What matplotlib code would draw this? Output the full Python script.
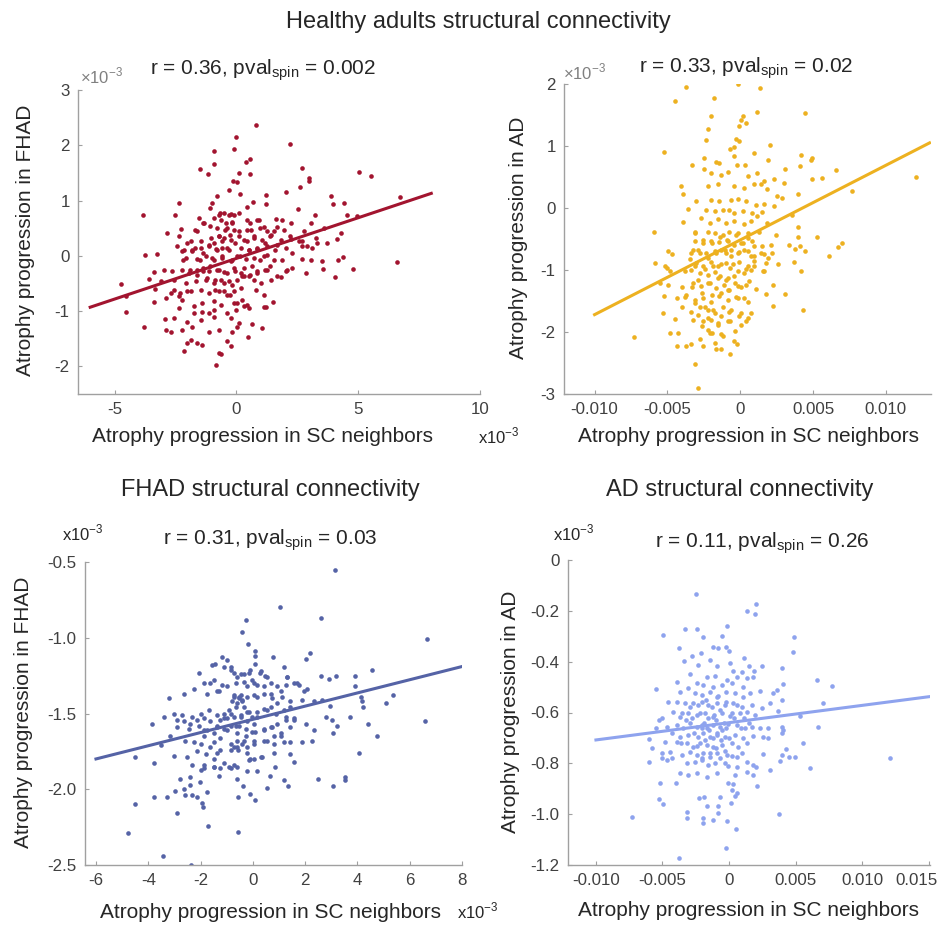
import numpy as np
import matplotlib
matplotlib.use("Agg")
import matplotlib.pyplot as plt
from matplotlib.transforms import ScaledTranslation

plt.rcParams["font.family"] = ["Liberation Sans", "DejaVu Sans"]
plt.rcParams["mathtext.fontset"] = "custom"
plt.rcParams["mathtext.rm"] = "Liberation Sans"
plt.rcParams["axes.unicode_minus"] = False

W, H = 944, 926

# --- data (x: atrophy in SC neighbours, y: regional atrophy) ---
# healthy-adults connectome, FHAD atrophy (both in x1e-3)
hc_fhad_pts = [
    (0.82, 2.37), (0.0, 2.15), (2.21, 2.03), (-0.08, 1.93), (-0.90, 1.89), (0.56, 1.75), (0.41, 1.69),
    (-0.93, 1.66), (-1.49, 1.57), (-1.16, 1.48), (0.11, 1.49), (0.55, 1.48), (2.71, 1.58), (2.99, 1.41),
    (2.97, 1.36), (5.04, 1.51), (5.51, 1.45), (-0.14, 1.36), (0.03, 1.33), (-0.29, 1.19), (2.04, 1.15),
    (2.60, 1.25), (-0.78, 1.08), (0.14, 1.11), (1.23, 1.10), (3.88, 1.09), (6.70, 1.07), (-1.01, 0.95),
    (-2.36, 0.95), (0.70, 0.97), (1.22, 0.94), (3.95, 0.94), (4.42, 0.95), (0.42, 0.89), (-1.08, 0.86),
    (-3.85, 0.73), (-2.53, 0.73), (3.21, 0.74), (4.56, 0.73), (2.53, 0.84),
    (-0.71, 0.74), (-0.51, 0.77), (-0.23, 0.76), (-0.10, 0.74), (-1.53, 0.68), (-1.33, 0.60), (-0.64, 0.65),
    (-0.41, 0.59), (-0.19, 0.62), (0.45, 0.65), (0.93, 0.64), (1.63, 0.67), (1.89, 0.64), (2.23, 0.59),
    (3.08, 0.59), (4.97, 0.72),
    (-2.29, 0.48), (-1.71, 0.47), (-1.08, 0.54), (-0.78, 0.50), (-0.37, 0.50), (-0.10, 0.47), (0.59, 0.47),
    (1.14, 0.53), (1.27, 0.44), (1.55, 0.44), (2.78, 0.44), (3.60, 0.50), (4.29, 0.41),
    (-2.84, 0.41), (-2.36, 0.35), (-1.88, 0.26), (-1.47, 0.26), (-1.05, 0.32), (-0.71, 0.35), (-0.51, 0.32),
    (-0.23, 0.28), (0.11, 0.35), (0.45, 0.26), (0.73, 0.32), (1.07, 0.29), (1.41, 0.38), (1.82, 0.28),
    (2.23, 0.30), (2.71, 0.26), (3.26, 0.32), (3.74, 0.23), (4.15, 0.30),
    (-2.42, 0.17), (-2.15, 0.11), (-1.81, 0.11), (-1.47, 0.14), (-1.12, 0.17), (-0.85, 0.12), (-0.58, 0.14),
    (-0.30, 0.11), (0.18, 0.14), (0.52, 0.11), (0.86, 0.12), (1.27, 0.17), (1.68, 0.20), (2.03, 0.14),
    (2.71, 0.17), (3.12, 0.14),
    (-3.77, 0.02), (-3.27, 0.04), (-2.08, -0.04), (-1.60, -0.06), (-1.26, -0.01), (-0.92, -0.07),
    (-0.58, -0.04), (-0.23, -0.10), (0.04, -0.01), (0.38, -0.06), (0.73, -0.04), (1.14, -0.01),
    (1.55, -0.07), (2.30, 0.05), (2.71, -0.06), (3.05, -0.07), (3.53, -0.10), (4.19, -0.07), (4.38, -0.02),
    (6.58, -0.12),
    (-3.38, -0.30), (-2.97, -0.25), (-2.63, -0.28), (-2.22, -0.25), (-1.95, -0.31), (-1.60, -0.25),
    (-1.36, -0.22), (-1.12, -0.28), (-0.78, -0.25), (-0.51, -0.30), (-0.10, -0.22), (0.18, -0.31),
    (0.52, -0.37), (0.86, -0.28), (1.27, -0.25), (2.03, -0.28), (2.30, -0.22), (2.85, -0.31), (3.56, -0.24),
    (4.77, -0.23), (4.03, -0.39),
    (-3.59, -0.42), (-3.11, -0.46), (-2.56, -0.43), (-2.08, -0.49), (-1.67, -0.46), (-1.26, -0.43),
    (-0.92, -0.49), (-0.64, -0.43), (-0.30, -0.46), (0.04, -0.43), (0.32, -0.37), (0.73, -0.43),
    (1.00, -0.49), (1.41, -0.43), (1.82, -0.39),
    (-4.75, -0.51), (-3.32, -0.60), (-2.70, -0.67), (-2.36, -0.72), (-1.88, -0.64), (-1.47, -0.61),
    (-1.12, -0.67), (-0.71, -0.64), (-0.37, -0.70), (-0.10, -0.64), (0.18, -0.58), (0.79, -0.61), (1.14, -0.70),
    (-4.55, -0.73), (-3.38, -0.83), (-2.90, -0.77), (-2.22, -0.80), (-1.74, -0.90), (-1.40, -0.86),
    (-0.92, -0.81), (-0.64, -0.89), (-0.10, -0.86), (0.25, -0.80), (0.45, -0.89), (1.52, -0.83),
    (-2.36, -0.95), (-1.74, -1.04), (-1.40, -1.01), (-1.12, -1.04), (-0.92, -0.98), (-0.37, -1.04),
    (-0.03, -0.98), (0.52, -0.95), (1.14, -0.92), (1.23, -0.93), (-4.53, -1.02),
    (-2.56, -1.13), (-2.01, -1.19), (-1.47, -1.16), (-0.92, -1.10), (-0.23, -1.13), (0.11, -1.22),
    (0.66, -1.23), (-3.79, -1.29), (-2.93, -1.14),
    (-2.90, -1.34), (-2.70, -1.37), (-2.22, -1.34), (-1.81, -1.28), (-1.12, -1.37), (-0.71, -1.34),
    (-0.16, -1.37), (0.04, -1.28), (1.07, -1.31),
    (-1.88, -1.52), (-1.60, -1.58), (-1.40, -1.61), (-0.37, -1.55), (-0.23, -1.63), (0.48, -1.46), (-2.01, -1.58),
    (-2.14, -1.72), (-0.71, -1.76), (-0.62, -1.77), (-0.84, -1.98),
    # dense core
    (-0.66, 0.77), (-0.32, 0.74), (0.10, 0.77), (-0.18, 0.59), (-0.45, 0.47), (-0.73, 0.35), (-0.93, 0.23),
    (-0.59, 0.26), (-0.25, 0.38), (0.10, 0.44), (0.44, 0.47), (0.58, 0.59), (0.85, 0.65), (0.99, 0.50),
    (0.71, 0.35), (0.30, 0.29), (-0.04, 0.23), (-0.38, 0.14), (-0.80, 0.11), (-1.14, 0.20), (-1.35, 0.05),
    (-1.00, -0.04), (-0.59, -0.01), (-0.18, -0.07), (0.16, -0.01), (0.51, 0.11), (0.85, 0.14), (1.19, 0.23),
    (1.40, 0.35), (1.60, 0.11), (1.26, 0.02), (0.99, -0.07), (0.65, -0.19), (0.30, -0.22), (-0.04, -0.28),
    (-0.38, -0.31), (-0.73, -0.25), (-1.07, -0.19), (-1.35, -0.28), (-1.62, -0.34), (-1.89, -0.25),
    (-2.17, -0.07), (-1.82, 0.08), (-1.48, -0.07), (-1.21, -0.40), (-0.86, -0.43), (-0.52, -0.49),
    (-0.18, -0.52), (0.23, -0.37), (0.58, -0.34), (0.85, -0.31), (1.19, -0.25), (-0.86, -0.61),
    (-0.52, -0.64), (-0.25, -0.70), (0.03, -0.85), (0.30, -0.91), (-2.03, -0.64), (-2.30, -0.67),
    (-2.58, -0.61), (-1.69, 0.14), (-2.03, 0.23), (-2.23, 0.08), (-1.62, 0.44), (-1.35, 0.59), (-0.93, 0.68),
    (1.67, 0.53), (1.95, 0.47), (2.22, 0.35), (2.56, 0.26), (2.91, 0.17), (3.32, 0.23), (1.88, -0.07),
    (2.09, -0.25), (1.67, -0.37), (1.40, -0.19),
]
hc_fhad_fit = [(-6.0, -0.93), (8.0, 1.13)]

# healthy-adults connectome, AD atrophy (x in x1e-3, scaled to raw units when drawn; y in x1e-3)
hc_ad_pts = [
    (-3.73, 1.95), (-0.18, 2.00), (1.33, 1.94), (-4.48, 1.72), (-1.83, 1.77), (1.18, 1.55), (4.48, 1.54),
    (-1.99, 1.49), (0.20, 1.48), (0.05, 1.42), (0.38, 1.37), (-0.05, 1.32), (-2.19, 1.27), (-0.29, 1.11),
    (-0.07, 1.08), (-2.33, 1.09), (2.04, 1.02), (-0.41, 0.99), (-0.70, 0.95), (-5.20, 0.90), (0.95, 0.88),
    (4.19, 0.86), (4.91, 0.81), (4.86, 0.78), (-2.49, 0.81), (-1.65, 0.74), (-1.43, 0.73), (-0.45, 0.84),
    (-0.23, 0.70), (0.32, 0.70), (1.90, 0.77), (-3.28, 0.70), (3.10, 0.63), (4.12, 0.67), (6.61, 0.62),
    (12.08, 0.50), (7.69, 0.27), (5.59, 0.48), (4.91, 0.47),
    (-2.49, 0.63), (-1.99, 0.56), (-1.31, 0.54), (-0.86, 0.58), (0.50, 0.51), (1.18, 0.56), (1.63, 0.43),
    (2.31, 0.46), (2.99, 0.40), (3.98, 0.23), (-4.07, 0.35), (-3.91, 0.23), (-2.22, 0.35), (-1.54, 0.38),
    (-0.41, 0.35), (0.27, 0.32), (0.95, 0.38), (1.40, 0.39), (1.86, 0.30), (2.53, 0.19), (2.87, 0.16),
    (-3.01, 0.11), (-1.99, 0.13), (-1.43, 0.11), (-0.63, 0.13), (-0.18, 0.14), (0.38, 0.11), (1.06, 0.05),
    (1.63, 0.07), (2.31, 0.03), (3.55, -0.11), (-3.57, -0.02), (-2.33, -0.03), (-1.76, -0.05), (-1.20, -0.04),
    (-0.75, -0.03), (-0.41, -0.08), (0.16, -0.05), (0.84, -0.08), (1.52, -0.07),
    (-3.91, -0.23), (-2.67, -0.16), (-2.10, -0.24), (-1.54, -0.18), (-0.97, -0.24), (-0.41, -0.21),
    (0.27, -0.26), (0.72, -0.21), (1.18, -0.13), (1.86, -0.24), (3.98, -0.30), (-3.12, -0.39), (-2.22, -0.38),
    (-1.76, -0.40), (-1.20, -0.43), (-0.75, -0.38), (-0.18, -0.40), (0.50, -0.41), (1.29, -0.38), (2.49, -0.43),
    (5.29, -0.46), (3.98, -0.46), (-5.95, -0.38),
    (-3.12, -0.54), (-2.56, -0.56), (-1.99, -0.54), (-1.43, -0.55), (-0.90, -0.51), (-0.41, -0.59),
    (0.16, -0.56), (0.84, -0.54), (1.52, -0.62), (2.08, -0.59), (3.33, -0.59), (3.78, -0.66), (4.12, -0.62),
    (6.99, -0.56), (6.72, -0.63), (6.09, -0.78), (4.46, -0.69),
    (-4.93, -0.70), (-4.71, -0.75), (-3.35, -0.72), (-2.90, -0.67), (-2.33, -0.72), (-1.76, -0.70),
    (-1.31, -0.67), (-0.97, -0.72), (-0.63, -0.67), (-0.07, -0.71), (0.50, -0.70), (0.95, -0.77),
    (1.63, -0.75), (2.19, -0.72),
    (-5.84, -0.89), (-5.16, -0.93), (-3.46, -0.82), (-3.01, -0.89), (-2.56, -0.93), (-1.99, -0.87),
    (-1.54, -0.93), (-0.97, -0.89), (-0.52, -0.91), (-0.07, -0.87), (0.50, -0.93), (0.95, -0.85),
    (1.74, -0.89), (2.58, -0.91), (3.67, -0.87),
    (-5.05, -0.97), (-4.82, -1.01), (-3.80, -1.02), (-3.35, -1.00), (-2.78, -1.05), (-2.22, -1.08),
    (-1.76, -1.04), (-1.36, -1.10), (-0.86, -1.13), (-0.41, -1.09), (0.27, -1.05), (0.72, -1.00),
    (1.63, -1.02), (4.19, -1.01),
    (-5.50, -1.21), (-4.93, -1.24), (-4.03, -1.27), (-3.24, -1.21), (-2.67, -1.26), (-2.10, -1.21),
    (-1.65, -1.29), (-1.09, -1.24), (-0.75, -1.32), (-0.18, -1.26), (0.38, -1.24), (1.06, -1.31), (2.22, -1.24),
    (-5.20, -1.42), (-4.37, -1.45), (-3.69, -1.41), (-3.12, -1.48), (-2.56, -1.45), (-1.99, -1.51),
    (-1.43, -1.42), (-0.86, -1.48), (-0.18, -1.45), (0.50, -1.51), (1.74, -1.38), (3.10, -1.39),
    (-5.27, -1.69), (-4.03, -1.60), (-3.35, -1.67), (-2.78, -1.59), (-2.22, -1.64), (-1.76, -1.69),
    (-1.31, -1.75), (-0.75, -1.67), (-0.07, -1.75), (0.72, -1.69), (2.26, -1.58), (4.30, -1.64),
    (-4.48, -1.79), (-3.24, -1.80), (-2.56, -1.83), (-1.99, -1.80), (-1.54, -1.88), (-0.70, -1.83),
    (0.05, -1.88), (0.38, -1.83),
    (-4.82, -2.02), (-4.25, -2.02), (-2.22, -1.96), (-2.10, -2.01), (-7.26, -2.08), (-2.78, -2.12),
    (-1.76, -2.17), (-1.20, -2.07), (-0.41, -2.15), (-0.23, -2.20),
    (-4.37, -2.22), (-3.69, -2.23), (-3.35, -2.20), (-2.56, -2.22), (-1.65, -2.28), (-1.31, -2.28),
    (-0.70, -2.35), (-3.12, -2.52), (-2.90, -2.90),
    # dense core
    (-3.11, -0.40), (-2.54, -0.51), (-1.97, -0.57), (-1.41, -0.46), (-0.84, -0.54), (-0.27, -0.43),
    (0.07, -0.57), (0.52, -0.48), (0.97, -0.62), (-3.22, -0.67), (-2.77, -0.73), (-2.20, -0.81),
    (-1.63, -0.73), (-1.07, -0.67), (-0.61, -0.78), (-0.16, -0.73), (0.29, -0.67), (0.75, -0.78),
    (1.43, -0.73), (1.88, -0.81), (-3.11, -0.94), (-2.43, -0.99), (-1.86, -0.94), (-1.29, -0.91),
    (-0.73, -0.97), (-0.16, -1.02), (0.41, -0.99), (0.97, -0.94), (1.54, -1.02), (-2.88, -1.16),
    (-2.20, -1.21), (-1.52, -1.13), (-0.95, -1.16), (-0.39, -1.21), (0.07, -1.27), (0.63, -1.18),
    (-3.33, -1.27), (-2.65, -1.37), (-1.97, -1.40), (-1.29, -1.37), (-0.84, -1.32), (-0.27, -1.43),
    (0.29, -1.45), (-3.79, -1.43), (-3.11, -1.53), (-2.43, -1.59), (-1.86, -1.64), (-1.18, -1.59),
    (-0.61, -1.64), (0.07, -1.69), (0.52, -1.77), (-2.88, -1.72), (-2.20, -1.77), (-1.52, -1.85),
    (-0.84, -1.83), (-2.65, -1.91), (-1.97, -2.02), (-1.29, -2.04), (-0.39, -1.99),
]
hc_ad_fit = [(-10.0, -1.72), (13.0, 1.05)]

# FHAD connectome, FHAD atrophy (both in x1e-3)
fhad_pts = [
    (3.16, -0.55), (1.03, -0.80), (2.59, -0.87), (-0.26, -0.88), (-0.41, -0.96), (6.67, -1.01), (-0.19, -1.04),
    (0.08, -1.09), (0.10, -1.12), (2.18, -1.10), (2.02, -1.14), (0.78, -1.13), (-1.17, -1.13), (-0.98, -1.15),
    (0.10, -1.17), (1.19, -1.19), (4.54, -1.21), (-1.58, -1.18), (-1.43, -1.17), (-2.07, -1.23), (-0.85, -1.19),
    (-0.73, -1.23), (-0.47, -1.24), (-0.15, -1.23), (0.29, -1.23), (0.48, -1.25), (1.31, -1.26), (1.76, -1.31),
    (2.59, -1.25), (3.19, -1.25), (3.90, -1.25), (2.91, -1.27),
    (-1.88, -1.30), (-1.49, -1.28), (-1.17, -1.31), (-0.66, -1.30), (-0.34, -1.29), (-0.03, -1.28),
    (0.17, -1.31), (0.68, -1.30), (0.93, -1.32), (1.25, -1.31), (1.57, -1.30), (2.08, -1.34), (3.89, -1.32),
    (5.37, -1.38),
    (-2.64, -1.37), (-2.26, -1.34), (-1.75, -1.37), (-1.30, -1.35), (-0.73, -1.38), (-0.54, -1.39),
    (-0.41, -1.41), (-0.22, -1.39), (0.04, -1.38), (0.42, -1.37), (0.74, -1.40), (1.12, -1.39), (1.44, -1.42),
    (1.89, -1.41), (2.33, -1.42), (2.65, -1.41), (2.97, -1.45), (4.12, -1.39), (4.16, -1.42), (5.09, -1.43),
    (4.21, -1.46), (-3.19, -1.40),
    (-3.41, -1.52), (-3.02, -1.50), (-2.70, -1.51), (-2.32, -1.52), (-2.00, -1.50), (-1.68, -1.48),
    (-1.36, -1.51), (-1.11, -1.53), (-0.85, -1.50), (-0.47, -1.52), (-0.15, -1.49), (0.17, -1.52),
    (0.55, -1.48), (0.87, -1.50), (1.25, -1.52), (1.57, -1.54), (2.02, -1.57), (2.78, -1.52), (3.04, -1.54),
    (3.23, -1.58), (3.71, -1.52), (6.57, -1.55), (4.40, -1.57), (-3.86, -1.57),
    (-2.90, -1.59), (-2.45, -1.60), (-2.07, -1.58), (-1.75, -1.61), (-1.36, -1.59), (-0.98, -1.61),
    (-0.66, -1.58), (-0.28, -1.60), (-0.03, -1.62), (0.42, -1.61), (0.74, -1.59), (1.06, -1.63),
    (1.44, -1.59), (2.33, -1.61), (3.07, -1.63), (4.76, -1.65),
    (-3.53, -1.71), (-3.15, -1.65), (-2.58, -1.68), (-2.26, -1.69), (-1.88, -1.65), (-1.49, -1.69),
    (-1.24, -1.66), (-0.85, -1.70), (-0.60, -1.72), (-0.34, -1.68), (0.04, -1.70), (0.42, -1.68),
    (0.80, -1.65), (1.19, -1.69), (1.44, -1.69), (1.89, -1.69), (2.27, -1.68),
    (-3.02, -1.78), (-2.51, -1.79), (-2.13, -1.75), (-1.81, -1.77), (-1.49, -1.80), (-1.24, -1.74),
    (-0.85, -1.74), (-0.57, -1.74), (-0.22, -1.76), (0.04, -1.80), (0.36, -1.79), (0.80, -1.76),
    (1.44, -1.77), (1.57, -1.82), (4.06, -1.76), (-4.52, -1.79), (-3.79, -1.83),
    (-2.32, -1.84), (-1.88, -1.84), (-1.49, -1.85), (-1.24, -1.86), (-0.92, -1.85), (-0.73, -1.84),
    (-0.15, -1.81), (-2.00, -1.87), (-1.30, -1.91), (-0.60, -1.93), (-0.24, -1.88), (0.17, -1.88),
    (0.65, -1.91), (0.83, -1.85), (1.19, -1.94), (1.34, -1.98), (2.49, -1.93), (3.07, -1.98), (3.52, -1.92),
    (3.54, -1.94),
    (-2.77, -1.93), (-2.39, -1.92), (-2.04, -1.95), (-2.96, -2.01), (-2.64, -2.00), (-2.41, -1.97),
    (-1.75, -2.02), (-0.37, -1.98), (0.55, -1.99), (-3.28, -2.05), (-2.58, -2.04), (-2.32, -2.04),
    (-2.13, -2.05), (-1.94, -2.09), (-1.90, -2.12), (-0.56, -2.05), (-0.09, -2.03), (0.10, -2.07),
    (-3.79, -2.05), (-4.52, -2.10), (-2.90, -2.16), (-1.71, -2.24), (-0.57, -2.28), (-4.77, -2.29),
    (-3.44, -2.44), (-2.37, -2.50),
    # dense core
    (-0.73, -1.39), (-0.54, -1.40), (-0.41, -1.42), (-0.60, -1.43), (-0.79, -1.42), (-0.47, -1.38),
    (-0.66, -1.46), (-0.34, -1.46), (-0.92, -1.48), (-1.11, -1.50), (-1.24, -1.54), (-0.98, -1.53),
    (-0.73, -1.52), (-0.47, -1.51), (-0.21, -1.49), (-0.02, -1.52), (0.17, -1.49), (0.42, -1.47),
    (0.68, -1.46), (0.93, -1.43), (1.19, -1.48), (1.44, -1.46), (0.04, -1.57), (-0.21, -1.55),
    (-0.54, -1.58), (-0.85, -1.58), (-1.11, -1.60), (-1.36, -1.58), (-1.62, -1.55), (-1.88, -1.53),
    (-2.13, -1.54), (-2.39, -1.57), (-2.64, -1.55), (-2.90, -1.54), (-1.88, -1.61), (-1.49, -1.63),
    (-0.60, -1.63), (-0.28, -1.65), (0.10, -1.62), (0.42, -1.60), (0.68, -1.59), (0.93, -1.57),
    (1.25, -1.54), (1.57, -1.53), (-0.60, -1.68), (-0.41, -1.70), (-0.21, -1.72), (-0.73, -1.72),
    (0.04, -1.68), (0.55, -1.68), (0.80, -1.70), (1.06, -1.65), (-1.62, -1.72), (-2.00, -1.70),
    (-1.36, -1.76), (-1.11, -1.83), (-1.49, -1.85), (-0.85, -1.86), (-0.60, -1.85), (-1.88, -1.86),
    (-0.09, -1.80), (0.30, -1.79), (-0.34, -1.24), (-0.60, -1.26), (-0.85, -1.21), (-1.11, -1.19),
    (-0.09, -1.21), (0.30, -1.22), (0.55, -1.26), (0.04, -1.30), (-0.21, -1.32), (0.42, -1.32),
    (0.68, -1.37), (1.06, -1.35), (1.32, -1.26), (1.70, -1.30), (1.95, -1.35), (0.17, -1.39),
    (-0.98, -1.32), (-1.36, -1.35), (-1.62, -1.30),
]
fhad_fit = [(-6.0, -1.80), (8.0, -1.19)]

# AD connectome, AD atrophy (x in x1e-3, scaled to raw units when drawn; y in x1e-3)
ad_pts = [
    (-2.50, -0.134), (1.33, -0.199), (2.03, -0.174), (1.93, -0.214), (-0.13, -0.260), (-3.30, -0.271),
    (-2.38, -0.271), (-4.93, -0.295), (-1.93, -0.302), (-0.50, -0.299), (4.88, -0.304), (-3.75, -0.345),
    (-1.18, -0.344), (-0.25, -0.341), (4.83, -0.361), (0.03, -0.358), (-2.80, -0.378), (-2.13, -0.365),
    (-0.85, -0.348), (1.15, -0.384), (-3.38, -0.397), (-2.30, -0.413), (-1.43, -0.393), (-0.88, -0.417),
    (0.08, -0.407), (1.53, -0.416), (2.45, -0.417), (3.95, -0.426), (1.90, -0.435), (0.33, -0.435),
    (0.95, -0.439),
    (-2.93, -0.449), (-1.68, -0.459), (-1.05, -0.456), (-0.18, -0.472), (0.58, -0.459), (1.33, -0.466),
    (1.83, -0.459), (6.63, -0.472), (7.70, -0.494), (4.08, -0.488), (-3.93, -0.479), (-2.43, -0.485),
    (-1.93, -0.492), (-1.18, -0.498), (-0.55, -0.492), (0.20, -0.485), (1.08, -0.498), (2.33, -0.514),
    (3.58, -0.511), (-5.50, -0.509),
    (-3.68, -0.518), (-3.05, -0.505), (-2.55, -0.525), (-2.05, -0.531), (-1.43, -0.518), (-0.80, -0.535),
    (-0.23, -0.518), (0.45, -0.525), (1.08, -0.538), (1.58, -0.525), (3.28, -0.525), (3.95, -0.551),
    (-4.55, -0.557), (-3.93, -0.557), (-3.30, -0.564), (-2.68, -0.561), (-2.05, -0.557), (-1.55, -0.570),
    (-0.93, -0.561), (-0.30, -0.570), (0.33, -0.564), (0.95, -0.577), (1.70, -0.570), (2.45, -0.584),
    (3.08, -0.561), (7.08, -0.561),
    (-5.05, -0.623), (-4.18, -0.597), (-3.68, -0.616), (-3.05, -0.603), (-2.43, -0.610), (-1.80, -0.603),
    (-1.18, -0.616), (-0.55, -0.603), (0.08, -0.614), (0.83, -0.603), (1.33, -0.597), (1.95, -0.610),
    (3.70, -0.593), (5.33, -0.614), (-5.30, -0.630),
    (-4.68, -0.656), (-3.93, -0.649), (-3.43, -0.662), (-2.93, -0.643), (-2.43, -0.656), (-2.05, -0.649),
    (-1.68, -0.662), (-1.18, -0.649), (-0.68, -0.656), (-0.05, -0.645), (0.58, -0.649), (1.20, -0.662),
    (1.70, -0.656), (2.33, -0.662), (2.95, -0.662), (3.95, -0.656), (6.70, -0.658), (-5.50, -0.662),
    (-4.30, -0.682), (-3.68, -0.695), (-3.05, -0.689), (-2.30, -0.695), (-1.93, -0.682), (-1.43, -0.695),
    (-0.93, -0.689), (-0.30, -0.695), (0.45, -0.689), (1.08, -0.702), (1.83, -0.692), (2.58, -0.698),
    (3.95, -0.682), (4.08, -0.669), (2.90, -0.702),
    (-6.05, -0.706), (-4.80, -0.715), (-5.80, -0.741), (-3.93, -0.715), (-3.18, -0.721), (-2.68, -0.734),
    (-2.18, -0.719), (-1.68, -0.728), (-1.18, -0.737), (-0.55, -0.728), (0.20, -0.719), (0.70, -0.734),
    (1.33, -0.721), (5.58, -0.721), (4.28, -0.742),
    (-5.05, -0.761), (-4.43, -0.754), (-3.55, -0.767), (-2.93, -0.754), (-2.43, -0.767), (-1.93, -0.761),
    (-1.43, -0.774), (-0.93, -0.761), (-0.18, -0.767), (0.58, -0.774), (0.95, -0.761), (2.58, -0.765),
    (4.95, -0.776), (4.53, -0.776), (3.95, -0.767),
    (-6.05, -0.793), (-5.05, -0.780), (-4.68, -0.787), (-4.30, -0.780), (-3.18, -0.800), (-2.55, -0.793),
    (-2.05, -0.787), (-1.55, -0.807), (-1.05, -0.797), (-0.30, -0.800), (-0.05, -0.810), (0.58, -0.813),
    (1.33, -0.793), (1.83, -0.807), (6.08, -0.820), (3.83, -0.790), (12.13, -0.778),
    (-3.68, -0.839), (-3.05, -0.846), (-2.43, -0.839), (-1.68, -0.855), (-0.93, -0.839), (0.45, -0.846),
    (1.33, -0.833), (1.78, -0.846), (2.08, -0.889), (3.08, -0.826), (2.03, -0.816),
    (-5.18, -0.876), (-3.98, -0.876), (-0.10, -0.876), (0.33, -0.883), (0.20, -0.905), (-0.68, -0.931),
    (0.58, -0.918), (0.45, -0.929), (-2.25, -0.938), (-1.88, -0.931), (-5.25, -0.942), (-4.93, -0.961),
    (0.13, -0.955), (-1.68, -0.968), (-0.85, -0.968), (-0.80, -0.994), (3.78, -1.001), (-3.18, -0.990),
    (-3.13, -1.016), (-1.98, -1.014), (-1.98, -1.036), (-1.18, -1.023), (-0.18, -1.027), (-7.30, -1.010),
    (0.53, -1.060), (-0.25, -1.132), (-3.75, -1.171),
    # dense core
    (-2.2, -0.60), (-1.6, -0.62), (-1.0, -0.63), (-0.4, -0.64), (-2.8, -0.62), (-1.3, -0.58), (-0.7, -0.59),
    (-2.0, -0.66), (-1.5, -0.67), (-0.9, -0.68), (-0.2, -0.66), (0.4, -0.62), (-2.6, -0.68), (-3.2, -0.63),
    (-1.2, -0.70), (-0.6, -0.71), (0.0, -0.70), (-1.8, -0.71), (-2.4, -0.73), (-1.0, -0.74), (-0.3, -0.75),
    (0.9, -0.66), (1.5, -0.64), (-3.5, -0.60), (-1.7, -0.55), (-0.9, -0.54), (-0.2, -0.56), (0.6, -0.57),
    (-2.3, -0.57), (-2.9, -0.58), (-1.4, -0.76), (-2.0, -0.78), (-0.7, -0.78), (0.2, -0.77), (-3.6, -0.72),
    (1.1, -0.62), (0.2, -0.60), (-1.1, -0.61), (-1.9, -0.64), (-0.5, -0.67),
]
ad_fit = [(-10.0, -0.708), (15.0, -0.538)]

stats = ["r = 0.36, pval$_{\\mathrm{spin}}$ = 0.002",
         "r = 0.33, pval$_{\\mathrm{spin}}$ = 0.02",
         "r = 0.31, pval$_{\\mathrm{spin}}$ = 0.03",
         "r = 0.11, pval$_{\\mathrm{spin}}$ = 0.26"]
ylabels = ["Atrophy progression in FHAD", "Atrophy progression in AD",
           "Atrophy progression in FHAD", "Atrophy progression in AD"]
xlabel = "Atrophy progression in SC neighbors"
colors = ["#a2142f", "#edb120", "#5563a6", "#8ea3ee"]

TXT = "#262626"
TICK = "#404040"
SPINE = "#a0a0a0"


def px(x, y):
    return x / W, 1 - y / H


def rect(l, t, r, b):
    return [l / W, 1 - b / H, (r - l) / W, (b - t) / H]


fig = plt.figure(figsize=(W / 100, H / 100), dpi=100)


def panel(box, pts, fit, color, xscale, xlim, ylim, xt, xtl, yt, ytl):
    ax = fig.add_axes(box)
    p = np.array(pts)
    f = np.array(fit)
    ax.scatter(p[:, 0] * xscale, p[:, 1], s=11, color=color, linewidths=0, zorder=2)
    ax.plot(f[:, 0] * xscale, f[:, 1], color=color, lw=2.2, zorder=3)
    ax.set_xlim(*xlim)
    ax.set_ylim(*ylim)
    ax.set_xticks(xt)
    ax.set_xticklabels(xtl)
    ax.set_yticks(yt)
    ax.set_yticklabels(ytl)
    for s in ["top", "right"]:
        ax.spines[s].set_visible(False)
    for s in ["left", "bottom"]:
        ax.spines[s].set_color(SPINE)
        ax.spines[s].set_linewidth(1.0)
    ax.tick_params(direction="in", length=3, width=0.8, color=SPINE,
                   labelsize=12.2, labelcolor=TICK, pad=6)
    return ax


panel(rect(78, 90, 480, 394), hc_fhad_pts, hc_fhad_fit, colors[0], 1.0,
      (-6.5, 10), (-2.5, 3), [-5, 0, 5, 10], ["-5", "0", "5", "10"],
      [-2, -1, 0, 1, 2, 3], ["-2", "-1", "0", "1", "2", "3"])
panel(rect(564, 84, 931, 394), hc_ad_pts, hc_ad_fit, colors[1], 1e-3,
      (-0.0121, 0.0131), (-3, 2), [-0.01, -0.005, 0, 0.005, 0.01],
      ["-0.010", "-0.005", "0", "0.005", "0.010"],
      [-3, -2, -1, 0, 1, 2], ["-3", "-2", "-1", "0", "1", "2"])
panel(rect(85, 562, 462, 865), fhad_pts, fhad_fit, colors[2], 1.0,
      (-6.42, 8), (-2.5, -0.5), [-6, -4, -2, 0, 2, 4, 6, 8],
      ["-6", "-4", "-2", "0", "2", "4", "6", "8"],
      [-2.5, -2.0, -1.5, -1.0, -0.5], ["-2.5", "-2.0", "-1.5", "-1.0", "-0.5"])
ax4 = panel(rect(568, 560, 930, 865), ad_pts, ad_fit, colors[3], 1e-3,
            (-0.0121, 0.0151), (-1.2, 0), [-0.01, -0.005, 0, 0.005, 0.01, 0.015],
            ["-0.010", "-0.005", "0", "0.005", "0.010", "0.015"],
            [-1.2, -1.0, -0.8, -0.6, -0.4, -0.2, 0],
            ["-1.2", "-1.0", "-0.8", "-0.6", "-0.4", "-0.2", "0"])
# last tick label sits against the figure edge: nudge it inwards
last = ax4.get_xticklabels()[-1]
last.set_transform(last.get_transform() + ScaledTranslation(-0.12, 0, fig.dpi_scale_trans))

# titles
fig.text(*px(478, 22), "Healthy adults structural connectivity", ha="center", va="center",
         fontsize=17, color=TXT)
fig.text(*px(270, 490), "FHAD structural connectivity", ha="center", va="center",
         fontsize=17, color=TXT)
fig.text(*px(740, 490), "AD structural connectivity", ha="center", va="center",
         fontsize=17, color=TXT)

# stats annotations
for (x, y), s in zip([(263, 70), (746, 68), (270, 540), (762, 543)], stats):
    fig.text(*px(x, y), s, ha="center", va="center", fontsize=15, color=TXT)

# axis labels
for (x, y) in [(262, 437), (748, 437), (270, 912), (748, 910)]:
    fig.text(*px(x, y), xlabel, ha="center", va="center", fontsize=15, color=TXT)
for (x, y), s in zip([(26, 240), (518, 238), (24, 712), (510, 712)], ylabels):
    fig.text(*px(x, y), s, ha="center", va="center", rotation=90, fontsize=15, color=TXT)

# exponent markers
fig.text(*px(80, 76), "\u00d710$^{\\mathrm{-3}}$", ha="left", va="center", fontsize=12, color="#808080")
fig.text(*px(563, 72), "\u00d710$^{\\mathrm{-3}}$", ha="left", va="center", fontsize=12, color="#808080")
fig.text(*px(478, 436), "x10$^{\\mathrm{-3}}$", ha="left", va="center", fontsize=12, color=TXT)
fig.text(*px(62, 533), "x10$^{\\mathrm{-3}}$", ha="left", va="center", fontsize=12, color=TXT)
fig.text(*px(457, 911), "x10$^{\\mathrm{-3}}$", ha="left", va="center", fontsize=12, color=TXT)
fig.text(*px(553, 533), "x10$^{\\mathrm{-3}}$", ha="left", va="center", fontsize=12, color=TXT)

fig.savefig("out.png", dpi=100)
